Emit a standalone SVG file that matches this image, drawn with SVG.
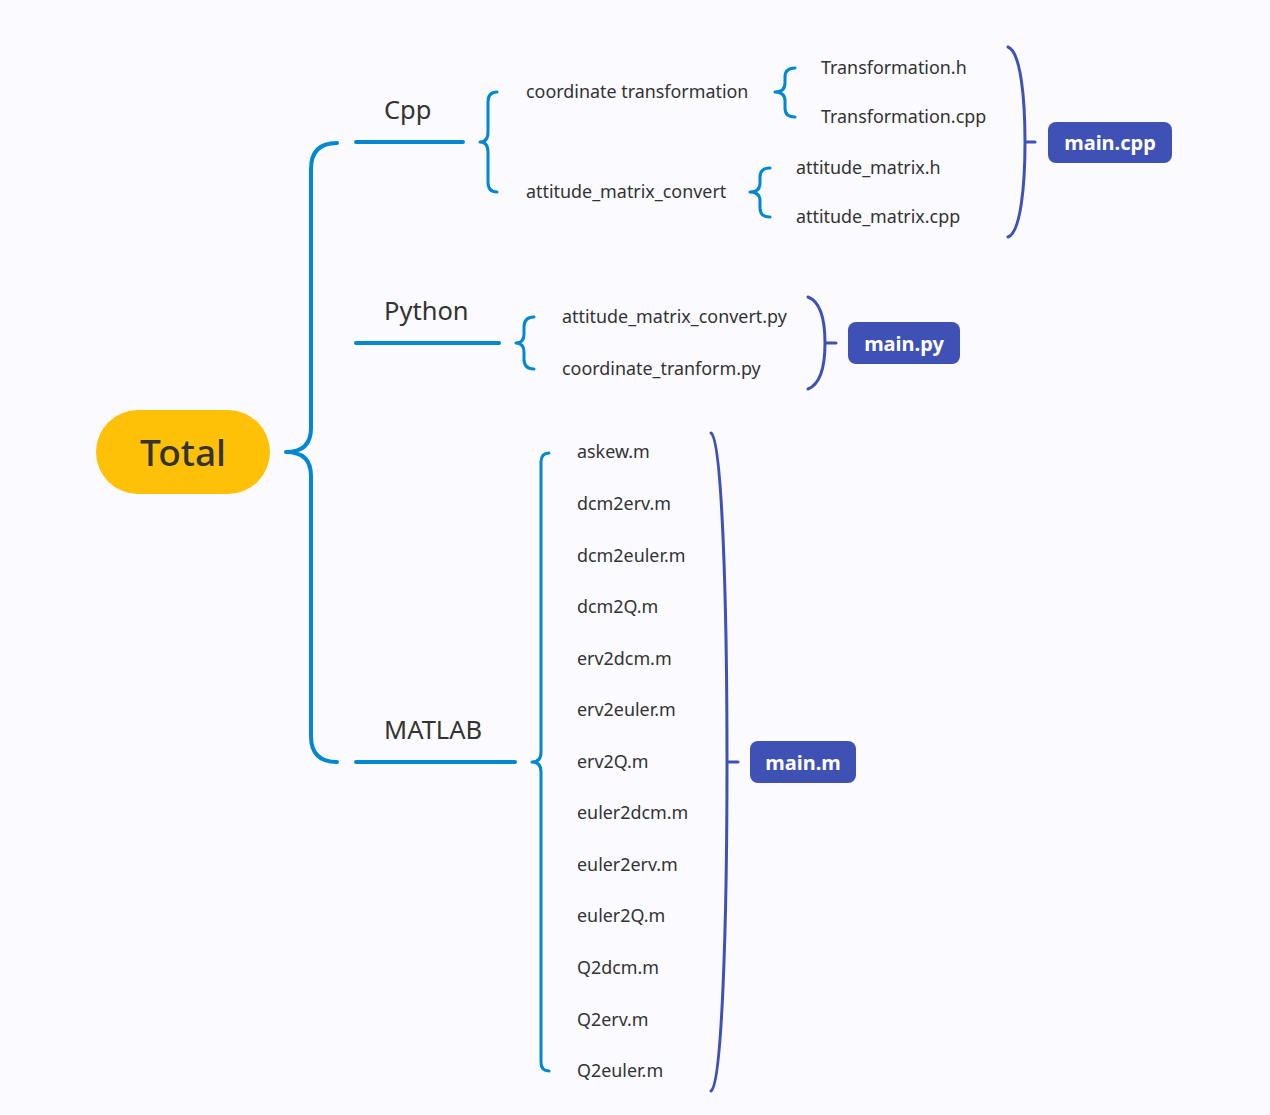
<svg xmlns="http://www.w3.org/2000/svg" width="1270" height="1115" viewBox="0 0 1270 1115">
<style>
.t{font-family:"Noto Sans","Open Sans",sans-serif;fill:#333;dominant-baseline:central}
.s{font-size:17.9px}
.h{font-size:25.5px}
.b{fill:none;stroke:#0288d1;stroke-linecap:round;stroke-linejoin:round}
.p{fill:none;stroke:#3f51b5;stroke-width:3;stroke-linecap:round}
.box{fill:#3f51b5}
.bt{font-family:"Noto Sans","Open Sans",sans-serif;font-weight:bold;font-size:20px;fill:#fff;text-anchor:middle;dominant-baseline:central}
</style>
<rect width="1270" height="1115" fill="#fafaff"/>
<g id="connectors">
<path class="b" stroke-width="4" d="M337,143 Q311,143 311,169 L311,428 Q311,452 286,452 Q311,452 311,476 L311,736 Q311,762 337,762"/>
<path class="b" stroke-width="4" d="M356,142 L463,142 M356,343 L499,343 M356,762 L515,762"/>
<path class="b" stroke-width="3" d="M497,92 Q488,92 488,102 L488,132 Q488,142 480,142 Q488,142 488,152 L488,182 Q488,192 497,192"/>
<path class="b" stroke-width="3" d="M795,68 Q785,68 785,77 L785,83 Q785,92 775,92 Q785,92 785,101 L785,108 Q785,117 795,117"/>
<path class="b" stroke-width="3" d="M770,168 Q760,168 760,177 L760,183 Q760,192 750,192 Q760,192 760,201 L760,208 Q760,217 770,217"/>
<path class="b" stroke-width="3" d="M534,317 Q524,317 524,327 L524,334 Q524,343 516,343 Q524,343 524,352 L524,359 Q524,369 534,369"/>
<path class="b" stroke-width="3" d="M549,453 Q541,453 541,462 L541,752 Q541,762 532,762 Q541,762 541,772 L541,1062 Q541,1071 549,1071"/>
<path class="p" d="M1008,47 C1021,52 1025,100 1025,142 C1025,184 1021,232 1008,237 M1025,142 L1035,142"/>
<path class="p" d="M808,297 C821,302 825,320 825,343 C825,366 821,384 808,389 M825,343 L836,343"/>
<path class="p" d="M711,433 C722,440 727,600 727,762 C727,924 722,1084 711,1091 M727,762 L738,762"/>
</g>
<g id="total">
<rect x="96" y="410" width="174" height="84" rx="42" fill="#ffc107"/>
<text class="t" x="183" y="451" font-size="37" font-weight="500" text-anchor="middle">Total</text>
</g>
<g id="cpp"><text class="t h" x="384" y="109">Cpp</text></g>
<g id="python"><text class="t h" x="384" y="310">Python</text></g>
<g id="matlab"><text class="t h" x="384" y="729">MATLAB</text></g>
<g id="coord"><text class="t s" x="526" y="91">coordinate transformation</text></g>
<g id="amc"><text class="t s" x="526" y="191">attitude_matrix_convert</text></g>
<g id="th"><text class="t s" x="821" y="67">Transformation.h</text></g>
<g id="tcpp"><text class="t s" x="821" y="116">Transformation.cpp</text></g>
<g id="amh"><text class="t s" x="796" y="167">attitude_matrix.h</text></g>
<g id="amcpp"><text class="t s" x="796" y="216">attitude_matrix.cpp</text></g>
<g id="amcpy"><text class="t s" x="562" y="316">attitude_matrix_convert.py</text></g>
<g id="ctpy"><text class="t s" x="562" y="368">coordinate_tranform.py</text></g>
<g id="mfiles">
<text class="t s" x="577" y="451">askew.m</text>
<text class="t s" x="577" y="503">dcm2erv.m</text>
<text class="t s" x="577" y="555">dcm2euler.m</text>
<text class="t s" x="577" y="606">dcm2Q.m</text>
<text class="t s" x="577" y="658">erv2dcm.m</text>
<text class="t s" x="577" y="709">erv2euler.m</text>
<text class="t s" x="577" y="761">erv2Q.m</text>
<text class="t s" x="577" y="812">euler2dcm.m</text>
<text class="t s" x="577" y="864">euler2erv.m</text>
<text class="t s" x="577" y="915">euler2Q.m</text>
<text class="t s" x="577" y="967">Q2dcm.m</text>
<text class="t s" x="577" y="1019">Q2erv.m</text>
<text class="t s" x="577" y="1070">Q2euler.m</text>
</g>
<g id="maincpp"><rect class="box" x="1048" y="122" width="124" height="41" rx="8"/><text class="bt" x="1110" y="142">main.cpp</text></g>
<g id="mainpy"><rect class="box" x="848" y="322" width="112" height="42" rx="8"/><text class="bt" x="904" y="343">main.py</text></g>
<g id="mainm"><rect class="box" x="750" y="741" width="106" height="42" rx="8"/><text class="bt" x="803" y="762">main.m</text></g>
</svg>
